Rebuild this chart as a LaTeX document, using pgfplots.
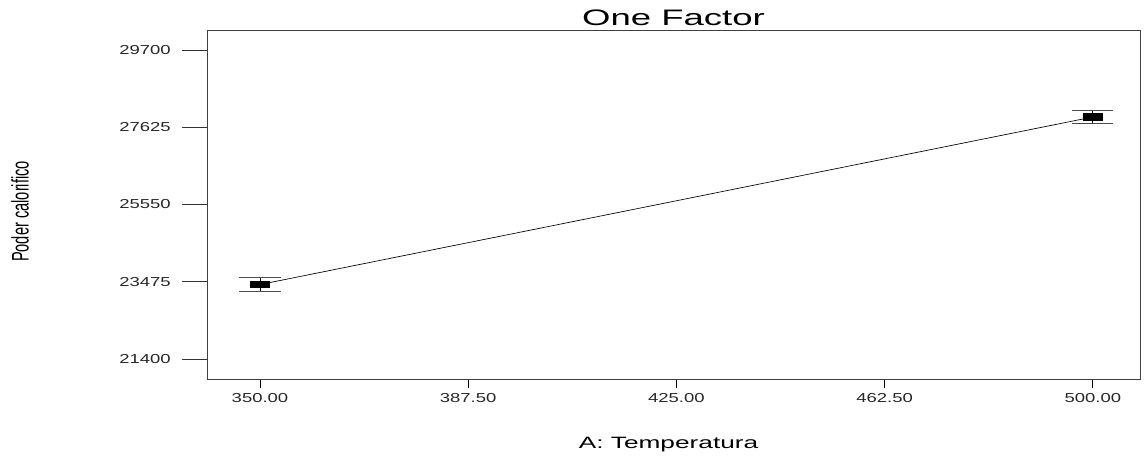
\documentclass[border=0pt]{standalone}
\usepackage{pgfplots}
\pgfplotsset{compat=1.18}
\usepackage{fontspec}
\setmainfont{Liberation Sans}
\pgfdeclareplotmark{rect}{\pgfpathrectangle{\pgfpoint{-7.5pt}{-2.7pt}}{\pgfpoint{15pt}{5.4pt}}\pgfusepathqfill}
\newcommand{\tl}[1]{\scalebox{1.42}[1]{#1}}
\begin{document}
\begin{tikzpicture}[x=1pt,y=1pt]
\path[use as bounding box] (0,0) rectangle (858,343.5);
\begin{axis}[
  at={(155.25pt,59.25pt)}, anchor=south west,
  scale only axis, width=699.75pt, height=261.75pt,
  xmin=340.46, xmax=508.5, ymin=20863, ymax=30237,
  scaled x ticks=false, scaled y ticks=false,
  xtick={350,387.5,425,462.5,500},
  xticklabels={\tl{350.00},\tl{387.50},\tl{425.00},\tl{462.50},\tl{500.00}},
  ytick={21400,23475,25550,27625,29700},
  yticklabels={\tl{21400},\tl{23475},\tl{25550},\tl{27625},\tl{29700}},
  tick align=outside,
  major tick length=6.75pt,
  xtick style={black, line width=0.6pt},
  ytick style={draw=none},
  xtick pos=bottom, ytick pos=left,
  axis line style={black!75, line width=0.7pt},
  ticklabel style={font=\fontsize{9.75}{11}\selectfont, text=black!85, inner sep=0pt},
  yticklabel style={anchor=east, xshift=-20.25pt},
  xticklabel style={anchor=north, yshift=-3.5pt},
  title={\scalebox{1.63}[1]{One Factor}},
  every axis title/.style={at={(rel axis cs:0.5,1)}, anchor=center, yshift=9pt, font=\fontsize{16.8}{18}\selectfont},
  xlabel={\scalebox{1.6}[1]{A: Temperatura}},
  every axis x label/.style={at={(rel axis cs:0.5,0)}, anchor=center, xshift=-3.75pt, yshift=-49.5pt, font=\fontsize{12.3}{14}\selectfont},
  ylabel={\scalebox{0.61}[1]{Poder calorifico}},
  every axis y label/.style={at={(rel axis cs:0,0.5)}, xshift=-140.25pt, yshift=-5.25pt, rotate=90, anchor=center, font=\fontsize{18}{20}\selectfont},
  clip=false,
]
\pgfplotsinvokeforeach{21400,23475,25550,27625,29700}{
  \draw[black!80, line width=0.6pt] (axis cs:340.46,#1) -- ++(-18.75pt,0pt);
}
\addplot[black, line width=0.5pt, mark=rect,
  error bars/.cd, y dir=both, y explicit,
  error bar style={black, line width=0.6pt},
  error mark options={rotate=90, black!70, line width=0.6pt, mark size=15.4pt}]
  coordinates {(350,23400) +- (0,195) (500,27900) +- (0,175)};
\end{axis}
\end{tikzpicture}
\end{document}
